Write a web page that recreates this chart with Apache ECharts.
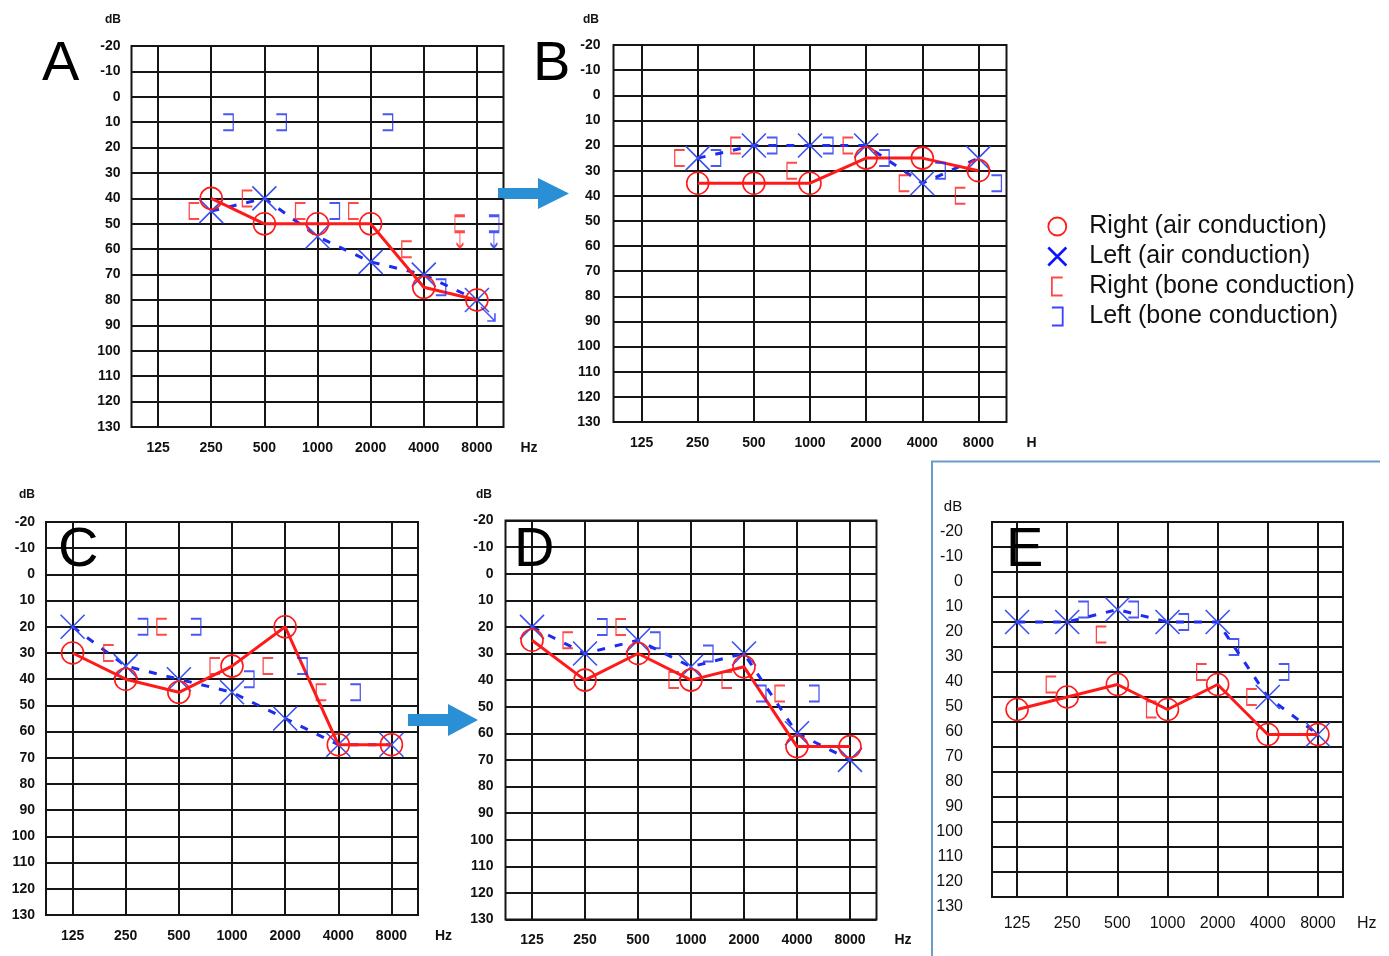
<!DOCTYPE html>
<html><head><meta charset="utf-8">
<script src="https://cdn.jsdelivr.net/npm/echarts@6/dist/echarts.min.js"></script>
<style>html,body{margin:0;padding:0;background:#fff}#c{width:1389px;height:956px}</style>
</head><body><div id="c"></div>
<script>
// ---------- data ----------
const freqLabels = ['125','250','500','1000','2000','4000','8000'];
const panelNames = ['A','B','C','D','E'];

const A_rightAir  = [null,40,50,50,50,75,80];
const A_leftAir   = [null,45,40,55,65,70,80];
const A_rightBone = [null,45,40,45,45,60,50];
const A_leftBone  = [null,10,10,45,10,75,50];
const A_rightBoneNR = [6];   // frequency indexes with no response
const A_leftBoneNR  = [6];
const A_leftAirNR   = [6];

const B_rightAir  = [null,35,35,35,25,25,30];
const B_leftAir   = [null,25,20,20,20,35,25];
const B_rightBone = [null,25,20,30,20,35,40];
const B_leftBone  = [null,25,20,20,25,30,35];

const C_rightAir  = [30,40,45,35,20,65,65];
const C_leftAir   = [20,35,40,45,55,65,65];
const C_rightBone = [null,30,20,35,35,45,null];
const C_leftBone  = [null,20,20,40,35,45,null];

const D_rightAir  = [25,40,30,40,35,65,65];
const D_leftAir   = [20,30,25,35,30,60,70];
const D_rightBone = [null,25,20,40,40,45,null];
const D_leftBone  = [null,20,25,30,45,45,null];

const E_rightAir  = [55,50,45,55,45,65,65];
const E_leftAir   = [20,20,15,20,20,50,65];
const E_rightBone = [null,45,25,55,40,50,null];
const E_leftBone  = [null,15,15,20,30,40,null];

const panelData = [
  {rightAir:A_rightAir, leftAir:A_leftAir, rightBone:A_rightBone, leftBone:A_leftBone, rbNR:A_rightBoneNR, lbNR:A_leftBoneNR, laNR:A_leftAirNR},
  {rightAir:B_rightAir, leftAir:B_leftAir, rightBone:B_rightBone, leftBone:B_leftBone, rbNR:[], lbNR:[], laNR:[]},
  {rightAir:C_rightAir, leftAir:C_leftAir, rightBone:C_rightBone, leftBone:C_leftBone, rbNR:[], lbNR:[], laNR:[]},
  {rightAir:D_rightAir, leftAir:D_leftAir, rightBone:D_rightBone, leftBone:D_leftBone, rbNR:[], lbNR:[], laNR:[]},
  {rightAir:E_rightAir, leftAir:E_leftAir, rightBone:E_rightBone, leftBone:E_leftBone, rbNR:[], lbNR:[], laNR:[]}
];

// ---------- styles / layout ----------
const RED = '#ff1a1a', BLUE = '#1e2cf0', XBLUE = '#3a50f0', GRID = '#151515';
const SYM_X  = 'path://M0,0L10,10M10,0L0,10';
const SYM_RB = 'path://M6,0L0,0L0,10L6,10';
const SYM_LB = 'path://M0,0L6,0L6,10L0,10';
const SYM_RB_NR = 'path://M6,0L0,0L0,10L6,10M3,10L3,20M0.9,17.2L3,20L5.1,17.2';
const SYM_LB_NR = 'path://M0,0L6,0L6,10L0,10M3,10L3,20M0.9,17.2L3,20L5.1,17.2';
const SYM_DIAG  = 'path://M0,0L10,10M10,4.5L10,10L4.5,10';

const NAMES = ['Right (air conduction)','Left (air conduction)','Right (bone conduction)','Left (bone conduction)'];

const layouts = [
  {left:131.5, top:46,    width:372, height:381, yMargin:11, xMargin:14, nameGapX:17, nameGapY:20, dbPad:37, hz:'Hz'},
  {left:613.5, top:45,    width:393, height:377, yMargin:13, xMargin:14, nameGapX:20, nameGapY:19, dbPad:45, hz:'H'},
  {left:46,    top:522,   width:372, height:393, yMargin:11, xMargin:14, nameGapX:17, nameGapY:21, dbPad:38, hz:'Hz'},
  {left:505.5, top:520.5, width:371, height:399, yMargin:12, xMargin:14, nameGapX:18, nameGapY:20, dbPad:43, hz:'Hz'},
  {left:992,   top:522,   width:351, height:375, yMargin:29, xMargin:19, nameGapX:14, nameGapY:8,  dbPad:78, hz:'Hz', plain:true}
];

const SANS = "'Liberation Sans',Arial,sans-serif";

const catData = [];
for (let k = 0; k < 15; k++) catData.push(String(k));

function pairs(arr) {
  const out = [];
  arr.forEach((v, i) => { if (v != null) out.push([i, v]); });
  return out;
}

const grids = [], xAxes = [], yAxes = [], series = [], titles = [];

layouts.forEach((L, p) => {
  const d = panelData[p];
  const step = L.width / 7;
  const boneOff = Math.round(step * 0.32);
  const lblFont = L.plain
    ? {fontFamily: SANS, fontSize: 16, fontWeight: 'normal', color: '#111'}
    : {fontFamily: SANS, fontSize: 14, fontWeight: 'bold', color: '#111'};

  grids.push({left:L.left, top:L.top, width:L.width, height:L.height, show:true,
              borderColor:GRID, borderWidth:2, backgroundColor:'transparent'});

  xAxes.push({
    type:'category', gridIndex:p, data:catData, boundaryGap:false, position:'bottom',
    axisLine:{show:false, onZero:false}, axisTick:{show:false},
    splitLine:{show:true, interval:(idx) => idx % 2 === 1, lineStyle:{color:GRID, width:2}},
    axisLabel:Object.assign({interval:0, margin:L.xMargin,
      formatter:(v, idx) => (idx % 2 === 1 ? freqLabels[(idx - 1) / 2] : '')}, lblFont),
    name:L.hz, nameLocation:'end', nameGap:L.nameGapX,
    nameTextStyle:Object.assign({verticalAlign:'top', padding:[L.xMargin,0,0,0]}, lblFont)
  });
  xAxes.push({type:'value', gridIndex:p, min:-0.5, max:6.5, show:false});

  yAxes.push({
    type:'value', gridIndex:p, inverse:true, min:-20, max:130, interval:10,
    axisLine:{show:false, onZero:false}, axisTick:{show:false},
    splitLine:{show:true, lineStyle:{color:GRID, width:2}},
    axisLabel:Object.assign({margin:L.yMargin},
      L.plain ? {verticalAlign:'top', padding:[2,0,0,0]} : {}, lblFont),
    name:'dB', nameLocation:'start', nameGap:L.nameGapY,
    nameTextStyle:Object.assign({}, lblFont, {align:'center', padding:[0,L.dbPad,0,0]},
      L.plain ? {fontSize:15} : {fontSize:12})
  });

  const xi = 2 * p + 1;
  // left air (blue X, dashed)
  series.push({
    type:'line', name:NAMES[1], xAxisIndex:xi, yAxisIndex:p, data:pairs(d.leftAir),
    symbol:SYM_X, symbolSize:24, showAllSymbol:true, silent:true, animation:false,
    itemStyle:{color:'rgba(0,0,0,0)', borderColor:XBLUE, borderWidth:1.6},
    lineStyle:{color:BLUE, width:3, type:[8,10]}, z:3
  });
  // right air (red O, solid)
  series.push({
    type:'line', name:NAMES[0], xAxisIndex:xi, yAxisIndex:p, data:pairs(d.rightAir),
    symbol:'circle', symbolSize:22, showAllSymbol:true, silent:true, animation:false,
    itemStyle:{color:'rgba(0,0,0,0)', borderColor:RED, borderWidth:1.6},
    lineStyle:{color:RED, width:3}, z:4
  });
  // right bone [
  series.push({
    type:'scatter', name:NAMES[2], xAxisIndex:xi, yAxisIndex:p, silent:true, animation:false,
    data:pairs(d.rightBone).map(pt => d.rbNR.indexOf(pt[0]) >= 0
      ? {value:pt, symbol:SYM_RB_NR, symbolSize:[10,32], symbolOffset:[-boneOff, 8]}
      : {value:pt}),
    symbol:SYM_RB, symbolSize:[10,16], symbolOffset:[-boneOff,0],
    itemStyle:{color:'rgba(0,0,0,0)', borderColor:RED, borderWidth:1.6}, z:5
  });
  // left bone ]
  series.push({
    type:'scatter', name:NAMES[3], xAxisIndex:xi, yAxisIndex:p, silent:true, animation:false,
    data:pairs(d.leftBone).map(pt => d.lbNR.indexOf(pt[0]) >= 0
      ? {value:pt, symbol:SYM_LB_NR, symbolSize:[10,32], symbolOffset:[boneOff, 8]}
      : {value:pt}),
    symbol:SYM_LB, symbolSize:[10,16], symbolOffset:[boneOff,0],
    itemStyle:{color:'rgba(0,0,0,0)', borderColor:BLUE, borderWidth:1.6}, z:5
  });
  if (d.laNR.length) {
    series.push({
      type:'scatter', name:'no response (left air)', xAxisIndex:xi, yAxisIndex:p, silent:true, animation:false,
      data:d.laNR.map(i => [i, d.leftAir[i]]),
      symbol:SYM_DIAG, symbolSize:[14,14], symbolOffset:[11,14],
      itemStyle:{color:'rgba(0,0,0,0)', borderColor:BLUE, borderWidth:1.6}, z:5
    });
  }
});

const letterPos = [
  {left:37, top:32}, {left:528, top:32}, {left:53, top:518}, {left:509, top:518}, {left:1001, top:518}
];
panelNames.forEach((t, i) => titles.push({
  text:t, left:letterPos[i].left, top:letterPos[i].top,
  textStyle:{fontFamily:SANS, fontSize:56, fontWeight:'normal', color:'#000'}
}));

const ARROW = '#2b8fd6';
const option = {
  animation:false,
  backgroundColor:'#fff',
  title:titles,
  grid:grids, xAxis:xAxes, yAxis:yAxes, series:series,
  legend:{
    orient:'vertical', left:1042, top:209, itemWidth:54, itemHeight:18, itemGap:5,
    selectedMode:false,
    textStyle:{fontFamily:SANS, fontSize:25, color:'#111'},
    data:[
      {name:NAMES[0], icon:'circle', itemStyle:{color:'rgba(0,0,0,0)', borderColor:RED, borderWidth:1.8}},
      {name:NAMES[1], icon:SYM_X, itemStyle:{color:'rgba(0,0,0,0)', borderColor:'#0a14ff', borderWidth:2.6}},
      {name:NAMES[2], icon:SYM_RB, itemStyle:{color:'rgba(0,0,0,0)', borderColor:RED, borderWidth:1.8}},
      {name:NAMES[3], icon:SYM_LB, itemStyle:{color:'rgba(0,0,0,0)', borderColor:'#0a14ff', borderWidth:1.8}}
    ]
  },
  graphic:[
    {type:'polygon', silent:true, shape:{points:[[498,188],[538,188],[538,178],[569,193.5],[538,209],[538,199],[498,199]]}, style:{fill:ARROW}},
    {type:'polygon', silent:true, shape:{points:[[408,714],[448,714],[448,704],[478,720],[448,736],[448,726],[408,726]]}, style:{fill:ARROW}},
    {type:'polyline', silent:true, shape:{points:[[932,956],[932,461.5],[1380,461.5]]}, style:{stroke:'#6b9cc8', lineWidth:2, fill:null}}
  ]
};

const chart = echarts.init(document.getElementById('c'), null, {renderer:'canvas'});
chart.setOption(option);
</script>
</body></html>
